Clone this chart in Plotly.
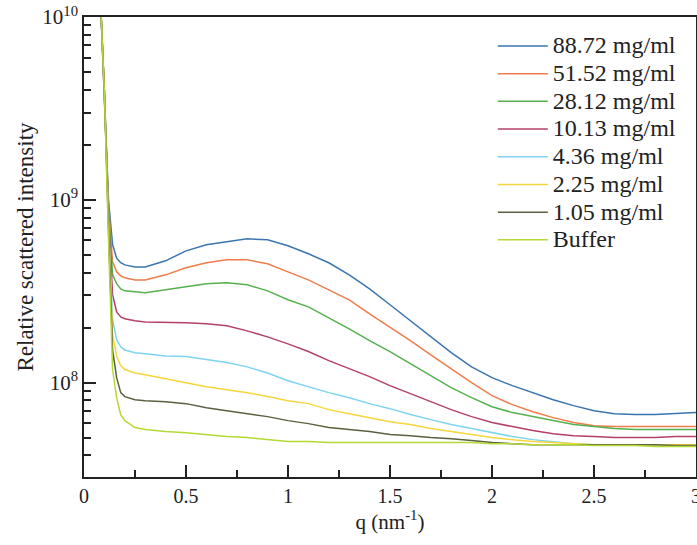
import plotly.graph_objects as go

q = [0.08, 0.10, 0.12, 0.14, 0.16, 0.18, 0.20, 0.25, 0.30, 0.40, 0.50, 0.60, 0.70, 0.80, 0.90,
     1.00, 1.10, 1.20, 1.30, 1.40, 1.50, 1.60, 1.70, 1.80, 1.90, 2.00, 2.10, 2.20, 2.30, 2.40,
     2.50, 2.60, 2.70, 2.80, 2.90, 3.00]

c_88_72 = [1.3e10, 3.9e9, 1.0e9, 5.7e8, 4.8e8, 4.53e8, 4.41e8, 4.30e8, 4.30e8,
           4.64e8, 5.26e8, 5.68e8, 5.90e8, 6.12e8, 6.05e8, 5.61e8, 5.07e8, 4.53e8, 3.89e8,
           3.26e8, 2.67e8, 2.18e8, 1.78e8, 1.46e8, 1.22e8, 1.065e8, 9.63e7, 8.82e7, 8.07e7,
           7.49e7, 7.03e7, 6.77e7, 6.69e7, 6.69e7, 6.77e7, 6.86e7]
c_51_52 = [1.3e10, 3.9e9, 9.39e8, 4.58e8, 4.04e8, 3.84e8, 3.75e8, 3.65e8, 3.65e8,
           3.89e8, 4.25e8, 4.53e8, 4.70e8, 4.70e8, 4.47e8, 4.04e8, 3.65e8, 3.22e8, 2.84e8,
           2.38e8, 2.02e8, 1.70e8, 1.42e8, 1.19e8, 1.0e8, 8.49e7, 7.58e7, 6.94e7, 6.44e7,
           6.05e7, 5.82e7, 5.75e7, 5.75e7, 5.75e7, 5.75e7, 5.75e7]
c_28_12 = [1.3e10, 3.9e9, 8.82e8, 3.89e8, 3.48e8, 3.26e8, 3.18e8, 3.14e8, 3.10e8,
           3.22e8, 3.35e8, 3.48e8, 3.52e8, 3.43e8, 3.18e8, 2.84e8, 2.60e8, 2.27e8, 1.97e8,
           1.70e8, 1.48e8, 1.27e8, 1.09e8, 9.39e7, 8.28e7, 7.39e7, 6.86e7, 6.52e7, 6.20e7,
           5.90e7, 5.75e7, 5.61e7, 5.54e7, 5.54e7, 5.54e7, 5.54e7]
c_10_13 = [1.3e10, 3.9e9, 8.28e8, 3.03e8, 2.44e8, 2.29e8, 2.24e8, 2.18e8, 2.15e8,
           2.15e8, 2.13e8, 2.10e8, 2.05e8, 1.92e8, 1.78e8, 1.63e8, 1.48e8, 1.32e8, 1.19e8,
           1.08e8, 9.63e7, 8.71e7, 7.87e7, 7.12e7, 6.52e7, 6.05e7, 5.75e7, 5.47e7, 5.26e7,
           5.13e7, 5.07e7, 5.01e7, 5.01e7, 5.01e7, 5.07e7, 5.07e7]
c_4_36 = [1.3e10, 3.9e9, 7.78e8, 2.21e8, 1.72e8, 1.57e8, 1.51e8, 1.46e8, 1.44e8,
          1.40e8, 1.39e8, 1.34e8, 1.29e8, 1.22e8, 1.13e8, 1.025e8, 9.51e7, 8.82e7, 8.28e7,
          7.68e7, 7.21e7, 6.69e7, 6.28e7, 5.90e7, 5.61e7, 5.33e7, 5.07e7, 4.88e7, 4.76e7,
          4.64e7, 4.58e7, 4.58e7, 4.58e7, 4.58e7, 4.58e7, 4.58e7]
c_2_25 = [1.3e10, 3.9e9, 7.30e8, 1.83e8, 1.40e8, 1.24e8, 1.18e8, 1.13e8, 1.106e8,
          1.05e8, 1.0e8, 9.51e7, 9.16e7, 8.82e7, 8.39e7, 7.97e7, 7.68e7, 7.12e7, 6.77e7,
          6.44e7, 6.12e7, 5.90e7, 5.61e7, 5.40e7, 5.20e7, 5.01e7, 4.88e7, 4.76e7, 4.70e7,
          4.64e7, 4.58e7, 4.58e7, 4.58e7, 4.58e7, 4.58e7, 4.58e7]
c_1_05 = [1.3e10, 3.9e9, 6.86e8, 1.51e8, 1.065e8, 8.82e7, 8.39e7, 8.07e7, 7.97e7,
          7.87e7, 7.68e7, 7.30e7, 7.03e7, 6.77e7, 6.52e7, 6.20e7, 5.97e7, 5.68e7, 5.54e7,
          5.40e7, 5.20e7, 5.13e7, 5.01e7, 4.94e7, 4.82e7, 4.70e7, 4.64e7, 4.58e7, 4.58e7,
          4.58e7, 4.58e7, 4.58e7, 4.58e7, 4.58e7, 4.53e7, 4.53e7]
buffer = [1.3e10, 3.9e9, 6.05e8, 1.18e8, 8.28e7, 6.69e7, 6.20e7, 5.68e7, 5.54e7,
          5.40e7, 5.33e7, 5.20e7, 5.07e7, 5.01e7, 4.88e7, 4.76e7, 4.76e7, 4.70e7, 4.70e7,
          4.70e7, 4.70e7, 4.70e7, 4.70e7, 4.70e7, 4.70e7, 4.64e7, 4.64e7, 4.58e7, 4.58e7,
          4.58e7, 4.53e7, 4.53e7, 4.53e7, 4.47e7, 4.47e7, 4.47e7]

labels = ["88.72 mg/ml", "51.52 mg/ml", "28.12 mg/ml", "10.13 mg/ml",
          "4.36 mg/ml", "2.25 mg/ml", "1.05 mg/ml", "Buffer"]
series = [c_88_72, c_51_52, c_28_12, c_10_13, c_4_36, c_2_25, c_1_05, buffer]
colors = ["#3b75af", "#f07c4c", "#55b04f", "#b4406a", "#7fd3f0", "#f5d63d", "#5a6040", "#b5d934"]

x_major = [0, 0.5, 1, 1.5, 2, 2.5, 3]
x_ticktext = ["0", "0.5", "1", "1.5", "2", "2.5", "3"]
x_minor = [0.25, 0.75, 1.25, 1.75, 2.25, 2.75]
y_major = [1e8, 1e9, 1e10]
y_ticktext = ["10<sup>8</sup>", "10<sup>9</sup>", "10<sup>10</sup>"]
y_minor = [m * 10 ** e for e in (7, 8, 9) for m in range(2, 10) if m * 10 ** e >= 3.1e7]

FONT = "Liberation Serif"
INK = "#222"

fig = go.Figure()
for name, ys, col in zip(labels, series, colors):
    fig.add_trace(go.Scatter(
        x=q, y=ys, mode="lines",
        name='<span style="font-size:24px">' + name + '</span>',
        line=dict(color=col, width=1.5)))

fig.update_layout(
    width=697, height=545,
    margin=dict(l=84, r=1, t=17, b=68),
    paper_bgcolor="white", plot_bgcolor="white",
    font=dict(family=FONT, size=19, color=INK),
    showlegend=True,
    legend=dict(x=0.668, y=0.978, xanchor="left", yanchor="top",
                font=dict(family=FONT, size=19, color=INK),
                bgcolor="rgba(0,0,0,0)", itemwidth=50, tracegroupgap=0),
)
fig.update_xaxes(
    range=[0, 3], tickvals=x_major, ticktext=x_ticktext, automargin=False,
    ticklabeloverflow="allow",
    ticks="inside", ticklen=12, tickwidth=1.5, tickcolor=INK,
    minor=dict(tickvals=x_minor, ticks="inside", ticklen=7, tickwidth=1.5, tickcolor=INK),
    showline=True, linecolor=INK, linewidth=1.5, mirror=True,
    showgrid=False, zeroline=False,
    title=dict(text="q (nm<sup>-1</sup>)", font=dict(family=FONT, size=21), standoff=6),
    tickfont=dict(family=FONT, size=20),
)
fig.update_yaxes(
    type="log", range=[7.484, 10.0005], tickvals=y_major, ticktext=y_ticktext, automargin=False,
    ticklabeloverflow="allow",
    ticks="inside", ticklen=12, tickwidth=1.5, tickcolor=INK,
    minor=dict(tickvals=y_minor, ticks="inside", ticklen=7, tickwidth=1.5, tickcolor=INK),
    showline=True, linecolor=INK, linewidth=1.5, mirror=True,
    showgrid=False, zeroline=False,
    title=dict(text="Relative scattered intensity", font=dict(family=FONT, size=23), standoff=2),
    tickfont=dict(family=FONT, size=21),
)

# remove the default 8 px page margin so the figure sits at the window origin
fig.write_html(
    "out.html",
    config={"displayModeBar": False},
    post_script="document.body.style.margin='0';document.body.style.padding='0';"
                "document.documentElement.style.overflow='hidden';",
)
